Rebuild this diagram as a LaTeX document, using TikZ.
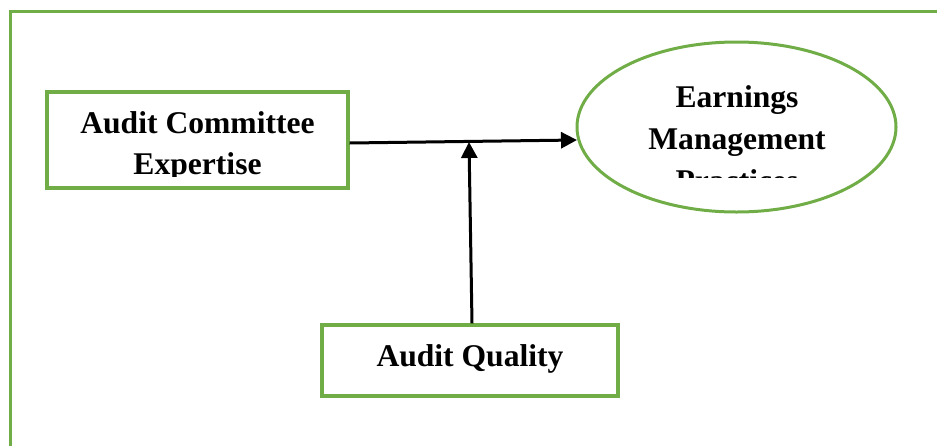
\documentclass[tikz,border=0pt]{standalone}
\usepackage{fontspec}
\setmainfont{Liberation Serif}
\usetikzlibrary{arrows.meta}
\definecolor{framegreen}{HTML}{70AD47}

\begin{document}
\begin{tikzpicture}[x=1pt,y=-1pt,
  greenbox/.style={draw=framegreen, line width=3.2pt, inner sep=0pt},
  label/.style={anchor=base, font=\fontsize{31.6pt}{38pt}\selectfont\bfseries},
  conn/.style={-{Triangle[length=16pt,width=16pt]}, line width=3pt}]
\useasboundingbox (0,0) rectangle (937,445);
% Frame
\draw[draw=framegreen, line width=3pt] (10,452) |- (945,11);
% Audit committee box
\node[greenbox, minimum width=301pt, minimum height=96pt] (ace) at (197.5,140) {};
\begin{scope}
\clip (49,94) rectangle (346,176);
\node[label] (aceone) at (197.5,133) {Audit Committee};
\node[label] (acetwo) at (197.5,174) {Expertise};
\end{scope}
% Earnings management ellipse
\draw[draw=framegreen, line width=3pt] (736.5,127) ellipse (159.5pt and 85pt);
\coordinate (emp) at (736.5,127);
\coordinate (empwest) at (577,140);
\begin{scope}
\clip (580,42) rectangle (894,177);
\node[label] (empone) at (737,107) {Earnings};
\node[label] (emptwo) at (737,149) {Management};
\node[label] (empthree) at (737,191) {Practices};
\end{scope}
% Audit quality box
\node[greenbox, minimum width=296pt, minimum height=71pt] (aq) at (470,360.5) {};
\node[label] (aqtext) at (470,366) {Audit Quality};
% Arrows
\coordinate (join) at (469,142);
\draw[conn] ([yshift=-3pt]ace.east) -- (empwest);
\draw[conn] ([xshift=2pt]aq.north) -- (join);
\end{tikzpicture}
\end{document}
